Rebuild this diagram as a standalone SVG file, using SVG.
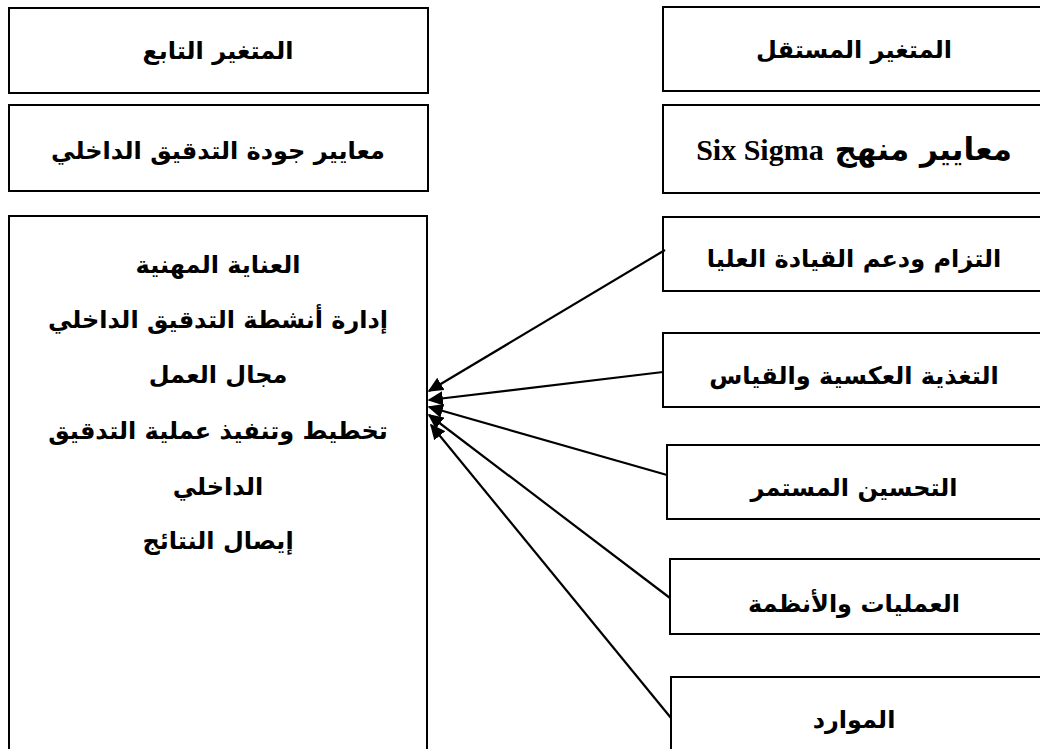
<svg xmlns="http://www.w3.org/2000/svg" width="1040" height="749" viewBox="0 0 1040 749">
<style>
.box{fill:#fff;stroke:#000;stroke-width:2}
.t{font-family:"DejaVu Sans","Liberation Sans",sans-serif;font-weight:bold;font-size:24px;fill:#000;text-anchor:middle}
.big{font-size:31px}
.en{font-family:"Liberation Serif","Times New Roman",serif;font-weight:bold;font-size:30px}
.c{stroke:#000;stroke-width:2.2;fill:none}
</style>
<defs>
<marker id="ah" viewBox="0 0 10 10" refX="9" refY="5" markerWidth="7" markerHeight="6.5" markerUnits="strokeWidth" orient="auto" preserveAspectRatio="none">
<path d="M0,0 L10,5 L0,10 z" fill="#000"/>
</marker>
</defs>
<rect width="1040" height="749" fill="#fff"/>
<g id="dep-title"><rect class="box" x="9" y="8" width="419" height="85"/><text class="t" x="218" y="59" direction="rtl">المتغير التابع</text></g>
<g id="dep-name"><rect class="box" x="9" y="105" width="419" height="86"/><text class="t" x="218" y="159" direction="rtl">معايير جودة التدقيق الداخلي</text></g>
<g id="dep-list"><rect class="box" x="9" y="216" width="418" height="545"/>
<text class="t" x="218" y="273" direction="rtl">العناية المهنية</text>
<text class="t" x="218" y="328" direction="rtl">إدارة أنشطة التدقيق الداخلي</text>
<text class="t" x="218" y="383" direction="rtl">مجال العمل</text>
<text class="t" x="218" y="439" direction="rtl">تخطيط وتنفيذ عملية التدقيق</text>
<text class="t" x="218" y="495" direction="rtl">الداخلي</text>
<text class="t" x="218" y="549" direction="rtl">إيصال النتائج</text>
</g>
<g id="ind-title"><rect class="box" x="663" y="7" width="390" height="84"/><text class="t" x="854" y="58" direction="rtl">المتغير المستقل</text></g>
<g id="ind-name"><rect class="box" x="663" y="105" width="390" height="88"/><text class="t big" x="854" y="160" direction="rtl">معايير منهج <tspan class="en">Six Sigma</tspan></text></g>
<g id="n1"><rect class="box" x="663" y="217" width="390" height="74"/><text class="t" x="854" y="267" direction="rtl">التزام ودعم القيادة العليا</text></g>
<g id="n2"><rect class="box" x="663" y="333" width="390" height="74"/><text class="t" x="854" y="384" direction="rtl">التغذية العكسية والقياس</text></g>
<g id="n3"><rect class="box" x="667" y="445" width="390" height="74"/><text class="t" x="854" y="496" direction="rtl">التحسين المستمر</text></g>
<g id="n4"><rect class="box" x="670" y="559" width="390" height="75"/><text class="t" x="854" y="612" direction="rtl">العمليات والأنظمة</text></g>
<g id="n5"><rect class="box" x="671" y="677" width="390" height="90"/><text class="t" x="854" y="728" direction="rtl">الموارد</text></g>
<g id="connectors">
<line class="c" x1="665" y1="250" x2="429" y2="391" marker-end="url(#ah)"/>
<line class="c" x1="663" y1="372" x2="429" y2="400" marker-end="url(#ah)"/>
<line class="c" x1="667" y1="475" x2="429" y2="407" marker-end="url(#ah)"/>
<line class="c" x1="670" y1="598" x2="429" y2="415" marker-end="url(#ah)"/>
<line class="c" x1="671" y1="718" x2="431" y2="425" marker-end="url(#ah)"/>
</g>
</svg>
